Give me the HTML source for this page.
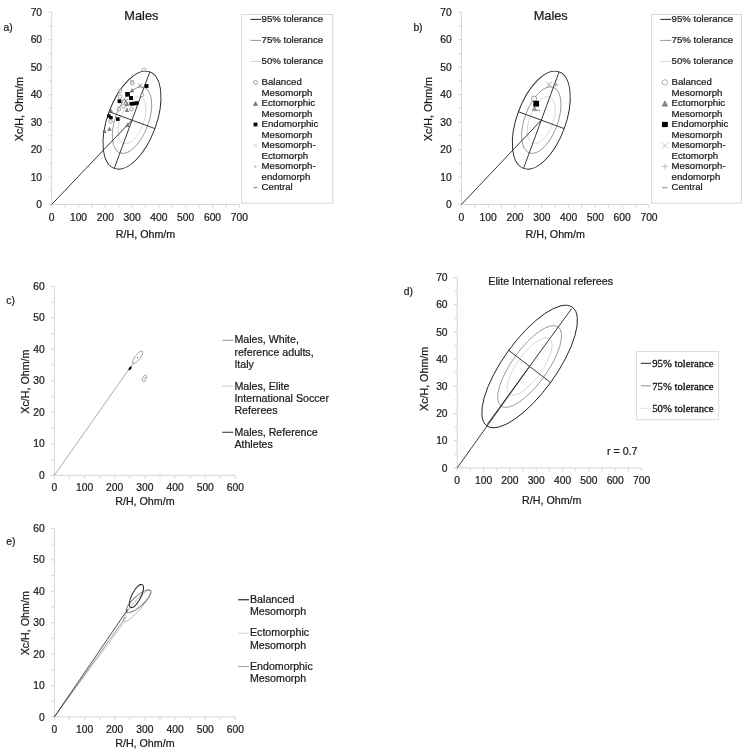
<!DOCTYPE html>
<html><head><meta charset="utf-8"><title>BIVA tolerance ellipses</title>
<style>html,body{margin:0;padding:0;background:#fff}svg{display:block;will-change:transform;transform:translateZ(0)}text{font-kerning:normal}</style>
</head><body>
<svg width="749" height="753" viewBox="0 0 749 753">
<rect width="749" height="753" fill="#fff"/>
<line x1="51.70" y1="204.45" x2="239.30" y2="204.45" stroke="#d4d4d4" stroke-width="1"/>
<line x1="51.70" y1="204.45" x2="51.70" y2="12.30" stroke="#d4d4d4" stroke-width="1"/>
<line x1="51.70" y1="204.45" x2="51.70" y2="207.75" stroke="#d4d4d4" stroke-width="1"/>
<text x="51.70" y="221.05" font-family='"Liberation Sans", sans-serif' font-size="10.3" text-anchor="middle" fill="#1a1a1a" stroke="#1a1a1a" stroke-width="0.22">0</text>
<line x1="65.10" y1="204.45" x2="65.10" y2="207.75" stroke="#d4d4d4" stroke-width="1"/>
<line x1="78.50" y1="204.45" x2="78.50" y2="207.75" stroke="#d4d4d4" stroke-width="1"/>
<text x="78.50" y="221.05" font-family='"Liberation Sans", sans-serif' font-size="10.3" text-anchor="middle" fill="#1a1a1a" stroke="#1a1a1a" stroke-width="0.22">100</text>
<line x1="91.90" y1="204.45" x2="91.90" y2="207.75" stroke="#d4d4d4" stroke-width="1"/>
<line x1="105.30" y1="204.45" x2="105.30" y2="207.75" stroke="#d4d4d4" stroke-width="1"/>
<text x="105.30" y="221.05" font-family='"Liberation Sans", sans-serif' font-size="10.3" text-anchor="middle" fill="#1a1a1a" stroke="#1a1a1a" stroke-width="0.22">200</text>
<line x1="118.70" y1="204.45" x2="118.70" y2="207.75" stroke="#d4d4d4" stroke-width="1"/>
<line x1="132.10" y1="204.45" x2="132.10" y2="207.75" stroke="#d4d4d4" stroke-width="1"/>
<text x="132.10" y="221.05" font-family='"Liberation Sans", sans-serif' font-size="10.3" text-anchor="middle" fill="#1a1a1a" stroke="#1a1a1a" stroke-width="0.22">300</text>
<line x1="145.50" y1="204.45" x2="145.50" y2="207.75" stroke="#d4d4d4" stroke-width="1"/>
<line x1="158.90" y1="204.45" x2="158.90" y2="207.75" stroke="#d4d4d4" stroke-width="1"/>
<text x="158.90" y="221.05" font-family='"Liberation Sans", sans-serif' font-size="10.3" text-anchor="middle" fill="#1a1a1a" stroke="#1a1a1a" stroke-width="0.22">400</text>
<line x1="172.30" y1="204.45" x2="172.30" y2="207.75" stroke="#d4d4d4" stroke-width="1"/>
<line x1="185.70" y1="204.45" x2="185.70" y2="207.75" stroke="#d4d4d4" stroke-width="1"/>
<text x="185.70" y="221.05" font-family='"Liberation Sans", sans-serif' font-size="10.3" text-anchor="middle" fill="#1a1a1a" stroke="#1a1a1a" stroke-width="0.22">500</text>
<line x1="199.10" y1="204.45" x2="199.10" y2="207.75" stroke="#d4d4d4" stroke-width="1"/>
<line x1="212.50" y1="204.45" x2="212.50" y2="207.75" stroke="#d4d4d4" stroke-width="1"/>
<text x="212.50" y="221.05" font-family='"Liberation Sans", sans-serif' font-size="10.3" text-anchor="middle" fill="#1a1a1a" stroke="#1a1a1a" stroke-width="0.22">600</text>
<line x1="225.90" y1="204.45" x2="225.90" y2="207.75" stroke="#d4d4d4" stroke-width="1"/>
<line x1="239.30" y1="204.45" x2="239.30" y2="207.75" stroke="#d4d4d4" stroke-width="1"/>
<text x="239.30" y="221.05" font-family='"Liberation Sans", sans-serif' font-size="10.3" text-anchor="middle" fill="#1a1a1a" stroke="#1a1a1a" stroke-width="0.22">700</text>
<line x1="48.20" y1="204.45" x2="51.70" y2="204.45" stroke="#d4d4d4" stroke-width="1"/>
<text x="42.10" y="208.05" font-family='"Liberation Sans", sans-serif' font-size="10.3" text-anchor="end" fill="#1a1a1a" stroke="#1a1a1a" stroke-width="0.22">0</text>
<line x1="49.00" y1="190.72" x2="51.70" y2="190.72" stroke="#d4d4d4" stroke-width="1"/>
<line x1="48.20" y1="177.00" x2="51.70" y2="177.00" stroke="#d4d4d4" stroke-width="1"/>
<text x="42.10" y="180.60" font-family='"Liberation Sans", sans-serif' font-size="10.3" text-anchor="end" fill="#1a1a1a" stroke="#1a1a1a" stroke-width="0.22">10</text>
<line x1="49.00" y1="163.27" x2="51.70" y2="163.27" stroke="#d4d4d4" stroke-width="1"/>
<line x1="48.20" y1="149.55" x2="51.70" y2="149.55" stroke="#d4d4d4" stroke-width="1"/>
<text x="42.10" y="153.15" font-family='"Liberation Sans", sans-serif' font-size="10.3" text-anchor="end" fill="#1a1a1a" stroke="#1a1a1a" stroke-width="0.22">20</text>
<line x1="49.00" y1="135.82" x2="51.70" y2="135.82" stroke="#d4d4d4" stroke-width="1"/>
<line x1="48.20" y1="122.10" x2="51.70" y2="122.10" stroke="#d4d4d4" stroke-width="1"/>
<text x="42.10" y="125.70" font-family='"Liberation Sans", sans-serif' font-size="10.3" text-anchor="end" fill="#1a1a1a" stroke="#1a1a1a" stroke-width="0.22">30</text>
<line x1="49.00" y1="108.37" x2="51.70" y2="108.37" stroke="#d4d4d4" stroke-width="1"/>
<line x1="48.20" y1="94.65" x2="51.70" y2="94.65" stroke="#d4d4d4" stroke-width="1"/>
<text x="42.10" y="98.25" font-family='"Liberation Sans", sans-serif' font-size="10.3" text-anchor="end" fill="#1a1a1a" stroke="#1a1a1a" stroke-width="0.22">40</text>
<line x1="49.00" y1="80.92" x2="51.70" y2="80.92" stroke="#d4d4d4" stroke-width="1"/>
<line x1="48.20" y1="67.20" x2="51.70" y2="67.20" stroke="#d4d4d4" stroke-width="1"/>
<text x="42.10" y="70.80" font-family='"Liberation Sans", sans-serif' font-size="10.3" text-anchor="end" fill="#1a1a1a" stroke="#1a1a1a" stroke-width="0.22">50</text>
<line x1="49.00" y1="53.47" x2="51.70" y2="53.47" stroke="#d4d4d4" stroke-width="1"/>
<line x1="48.20" y1="39.75" x2="51.70" y2="39.75" stroke="#d4d4d4" stroke-width="1"/>
<text x="42.10" y="43.35" font-family='"Liberation Sans", sans-serif' font-size="10.3" text-anchor="end" fill="#1a1a1a" stroke="#1a1a1a" stroke-width="0.22">60</text>
<line x1="49.00" y1="26.02" x2="51.70" y2="26.02" stroke="#d4d4d4" stroke-width="1"/>
<line x1="48.20" y1="12.30" x2="51.70" y2="12.30" stroke="#d4d4d4" stroke-width="1"/>
<text x="42.10" y="15.90" font-family='"Liberation Sans", sans-serif' font-size="10.3" text-anchor="end" fill="#1a1a1a" stroke="#1a1a1a" stroke-width="0.22">70</text>
<text x="145.50" y="237.55" font-family='"Liberation Sans", sans-serif' font-size="10.7" text-anchor="middle" fill="#1a1a1a" stroke="#1a1a1a" stroke-width="0.22">R/H, Ohm/m</text>
<text x="22.70" y="109.07" font-family='"Liberation Sans", sans-serif' font-size="10.7" text-anchor="middle" fill="#1a1a1a" stroke="#1a1a1a" stroke-width="0.22" transform="rotate(-90 22.70 109.07)">Xc/H, Ohm/m</text>
<text x="3.60" y="31.00" font-family='"Liberation Sans", sans-serif' font-size="10.3" text-anchor="start" fill="#1a1a1a" stroke="#1a1a1a" stroke-width="0.22">a)</text>
<text x="141.40" y="19.80" font-family='"Liberation Sans", sans-serif' font-size="12.8" text-anchor="middle" fill="#1a1a1a" stroke="#1a1a1a" stroke-width="0.22">Males</text>
<ellipse cx="132.00" cy="120.15" rx="24.72" ry="11.74" transform="rotate(-69.80 132.00 120.15)" stroke="#d4d4d4" stroke-width="0.8" fill="none"/>
<ellipse cx="132.00" cy="120.15" rx="34.95" ry="16.59" transform="rotate(-69.80 132.00 120.15)" stroke="#8c8c8c" stroke-width="0.8" fill="none"/>
<ellipse cx="132.00" cy="120.15" rx="51.40" ry="24.40" transform="rotate(-69.80 132.00 120.15)" stroke="#222" stroke-width="0.9" fill="none"/>
<line x1="114.25" y1="168.39" x2="149.75" y2="71.91" stroke="#222" stroke-width="0.9"/>
<line x1="109.10" y1="111.72" x2="154.90" y2="128.58" stroke="#222" stroke-width="0.9"/>
<line x1="51.70" y1="204.45" x2="131.60" y2="120.55" stroke="#222" stroke-width="0.9"/>
<circle cx="143.90" cy="69.70" r="1.8" fill="#fff" fill-opacity="0.6" stroke="#707070" stroke-width="0.6"/>
<circle cx="132.00" cy="82.00" r="1.8" fill="#fff" fill-opacity="0.6" stroke="#707070" stroke-width="0.6"/>
<circle cx="132.20" cy="83.30" r="1.8" fill="#fff" fill-opacity="0.6" stroke="#707070" stroke-width="0.6"/>
<circle cx="120.00" cy="91.00" r="1.8" fill="#fff" fill-opacity="0.6" stroke="#707070" stroke-width="0.6"/>
<circle cx="142.10" cy="95.00" r="1.8" fill="#fff" fill-opacity="0.6" stroke="#707070" stroke-width="0.6"/>
<circle cx="120.00" cy="96.50" r="1.8" fill="#fff" fill-opacity="0.6" stroke="#707070" stroke-width="0.6"/>
<circle cx="124.00" cy="101.60" r="1.8" fill="#fff" fill-opacity="0.6" stroke="#707070" stroke-width="0.6"/>
<circle cx="123.50" cy="106.10" r="1.8" fill="#fff" fill-opacity="0.6" stroke="#707070" stroke-width="0.6"/>
<circle cx="119.00" cy="109.10" r="1.8" fill="#fff" fill-opacity="0.6" stroke="#707070" stroke-width="0.6"/>
<circle cx="131.50" cy="109.10" r="1.8" fill="#fff" fill-opacity="0.6" stroke="#707070" stroke-width="0.6"/>
<circle cx="110.50" cy="121.50" r="1.8" fill="#fff" fill-opacity="0.6" stroke="#707070" stroke-width="0.6"/>
<path d="M132.00 88.80 L133.70 92.03 L130.30 92.03 Z" fill="#8a8a8a" stroke="#555" stroke-width="0.6"/>
<path d="M127.00 102.30 L128.70 105.53 L125.30 105.53 Z" fill="#8a8a8a" stroke="#555" stroke-width="0.6"/>
<path d="M127.00 108.30 L128.70 111.53 L125.30 111.53 Z" fill="#8a8a8a" stroke="#555" stroke-width="0.6"/>
<path d="M111.00 109.30 L112.70 112.53 L109.30 112.53 Z" fill="#8a8a8a" stroke="#555" stroke-width="0.6"/>
<path d="M109.50 127.30 L111.20 130.53 L107.80 130.53 Z" fill="#8a8a8a" stroke="#555" stroke-width="0.6"/>
<path d="M104.50 129.30 L106.20 132.53 L102.80 132.53 Z" fill="#8a8a8a" stroke="#555" stroke-width="0.6"/>
<path d="M127.50 123.30 L129.20 126.53 L125.80 126.53 Z" fill="#8a8a8a" stroke="#555" stroke-width="0.6"/>
<path d="M138.00 83.50 L142.00 87.50 M138.00 87.50 L142.00 83.50" stroke="#5a5a5a" stroke-width="0.7" fill="none"/>
<path d="M124.00 99.00 L128.00 103.00 M124.00 103.00 L128.00 99.00" stroke="#5a5a5a" stroke-width="0.7" fill="none"/>
<rect x="144.70" y="84.10" width="3.8" height="3.8" fill="#000"/>
<rect x="125.20" y="92.00" width="4.6" height="4.6" fill="#000"/>
<rect x="129.00" y="96.00" width="4.0" height="4.0" fill="#000"/>
<rect x="117.60" y="99.30" width="3.8" height="3.8" fill="#000"/>
<rect x="129.50" y="102.00" width="3.6" height="3.6" fill="#000"/>
<rect x="131.60" y="101.80" width="3.6" height="3.6" fill="#000"/>
<rect x="133.60" y="101.60" width="3.6" height="3.6" fill="#000"/>
<rect x="135.30" y="101.30" width="3.4" height="3.4" fill="#000"/>
<rect x="107.20" y="114.30" width="3.4" height="3.4" fill="#000"/>
<rect x="109.30" y="115.90" width="3.4" height="3.4" fill="#000"/>
<rect x="116.00" y="117.30" width="3.6" height="3.6" fill="#000"/>
<rect x="241.70" y="14.5" width="91.0" height="188.7" fill="#fff" stroke="#d6d6d6" stroke-width="1"/>
<line x1="250.40" y1="19.40" x2="261.30" y2="19.40" stroke="#222" stroke-width="1"/>
<text x="261.60" y="22.10" font-family='"Liberation Sans", sans-serif' font-size="9.65" text-anchor="start" fill="#1a1a1a" stroke="#1a1a1a" stroke-width="0.22">95% tolerance</text>
<line x1="250.40" y1="40.40" x2="261.30" y2="40.40" stroke="#8a8a8a" stroke-width="0.9"/>
<text x="261.60" y="43.10" font-family='"Liberation Sans", sans-serif' font-size="9.65" text-anchor="start" fill="#1a1a1a" stroke="#1a1a1a" stroke-width="0.22">75% tolerance</text>
<line x1="250.40" y1="61.40" x2="261.30" y2="61.40" stroke="#cfcfcf" stroke-width="0.9"/>
<text x="261.60" y="64.20" font-family='"Liberation Sans", sans-serif' font-size="9.65" text-anchor="start" fill="#1a1a1a" stroke="#1a1a1a" stroke-width="0.22">50% tolerance</text>
<text x="261.60" y="85.20" font-family='"Liberation Sans", sans-serif' font-size="9.65" text-anchor="start" fill="#1a1a1a" stroke="#1a1a1a" stroke-width="0.22">Balanced</text>
<text x="261.60" y="96.10" font-family='"Liberation Sans", sans-serif' font-size="9.65" text-anchor="start" fill="#1a1a1a" stroke="#1a1a1a" stroke-width="0.22">Mesomorph</text>
<text x="261.60" y="106.20" font-family='"Liberation Sans", sans-serif' font-size="9.65" text-anchor="start" fill="#1a1a1a" stroke="#1a1a1a" stroke-width="0.22">Ectomorphic</text>
<text x="261.60" y="117.10" font-family='"Liberation Sans", sans-serif' font-size="9.65" text-anchor="start" fill="#1a1a1a" stroke="#1a1a1a" stroke-width="0.22">Mesomorph</text>
<text x="261.60" y="127.20" font-family='"Liberation Sans", sans-serif' font-size="9.65" text-anchor="start" fill="#1a1a1a" stroke="#1a1a1a" stroke-width="0.22">Endomorphic</text>
<text x="261.60" y="138.10" font-family='"Liberation Sans", sans-serif' font-size="9.65" text-anchor="start" fill="#1a1a1a" stroke="#1a1a1a" stroke-width="0.22">Mesomorph</text>
<text x="261.60" y="148.20" font-family='"Liberation Sans", sans-serif' font-size="9.65" text-anchor="start" fill="#1a1a1a" stroke="#1a1a1a" stroke-width="0.22">Mesomorph-</text>
<text x="261.60" y="159.10" font-family='"Liberation Sans", sans-serif' font-size="9.65" text-anchor="start" fill="#1a1a1a" stroke="#1a1a1a" stroke-width="0.22">Ectomorph</text>
<text x="261.60" y="169.20" font-family='"Liberation Sans", sans-serif' font-size="9.65" text-anchor="start" fill="#1a1a1a" stroke="#1a1a1a" stroke-width="0.22">Mesomorph-</text>
<text x="261.60" y="180.10" font-family='"Liberation Sans", sans-serif' font-size="9.65" text-anchor="start" fill="#1a1a1a" stroke="#1a1a1a" stroke-width="0.22">endomorph</text>
<text x="261.60" y="190.20" font-family='"Liberation Sans", sans-serif' font-size="9.65" text-anchor="start" fill="#1a1a1a" stroke="#1a1a1a" stroke-width="0.22">Central</text>
<circle cx="255.50" cy="82.40" r="1.9" fill="#fff" fill-opacity="0.6" stroke="#777" stroke-width="0.7"/>
<path d="M255.50 101.65 L257.50 105.45 L253.50 105.45 Z" fill="#777" stroke="#666" stroke-width="0.6"/>
<rect x="253.60" y="122.60" width="3.8" height="3.8" fill="#000"/>
<path d="M253.80 143.85 L257.20 147.25 M253.80 147.25 L257.20 143.85" stroke="#aaa" stroke-width="0.6" fill="none"/>
<path d="M253.80 166.60 L257.20 166.60 M255.50 164.90 L255.50 168.30" stroke="#aaa" stroke-width="0.6" fill="none"/>
<path d="M253.60 187.65 L257.40 187.65" stroke="#666" stroke-width="0.9" fill="none"/>
<line x1="461.40" y1="204.45" x2="649.00" y2="204.45" stroke="#d4d4d4" stroke-width="1"/>
<line x1="461.40" y1="204.45" x2="461.40" y2="12.30" stroke="#d4d4d4" stroke-width="1"/>
<line x1="461.40" y1="204.45" x2="461.40" y2="207.75" stroke="#d4d4d4" stroke-width="1"/>
<text x="461.40" y="221.05" font-family='"Liberation Sans", sans-serif' font-size="10.3" text-anchor="middle" fill="#1a1a1a" stroke="#1a1a1a" stroke-width="0.22">0</text>
<line x1="474.80" y1="204.45" x2="474.80" y2="207.75" stroke="#d4d4d4" stroke-width="1"/>
<line x1="488.20" y1="204.45" x2="488.20" y2="207.75" stroke="#d4d4d4" stroke-width="1"/>
<text x="488.20" y="221.05" font-family='"Liberation Sans", sans-serif' font-size="10.3" text-anchor="middle" fill="#1a1a1a" stroke="#1a1a1a" stroke-width="0.22">100</text>
<line x1="501.60" y1="204.45" x2="501.60" y2="207.75" stroke="#d4d4d4" stroke-width="1"/>
<line x1="515.00" y1="204.45" x2="515.00" y2="207.75" stroke="#d4d4d4" stroke-width="1"/>
<text x="515.00" y="221.05" font-family='"Liberation Sans", sans-serif' font-size="10.3" text-anchor="middle" fill="#1a1a1a" stroke="#1a1a1a" stroke-width="0.22">200</text>
<line x1="528.40" y1="204.45" x2="528.40" y2="207.75" stroke="#d4d4d4" stroke-width="1"/>
<line x1="541.80" y1="204.45" x2="541.80" y2="207.75" stroke="#d4d4d4" stroke-width="1"/>
<text x="541.80" y="221.05" font-family='"Liberation Sans", sans-serif' font-size="10.3" text-anchor="middle" fill="#1a1a1a" stroke="#1a1a1a" stroke-width="0.22">300</text>
<line x1="555.20" y1="204.45" x2="555.20" y2="207.75" stroke="#d4d4d4" stroke-width="1"/>
<line x1="568.60" y1="204.45" x2="568.60" y2="207.75" stroke="#d4d4d4" stroke-width="1"/>
<text x="568.60" y="221.05" font-family='"Liberation Sans", sans-serif' font-size="10.3" text-anchor="middle" fill="#1a1a1a" stroke="#1a1a1a" stroke-width="0.22">400</text>
<line x1="582.00" y1="204.45" x2="582.00" y2="207.75" stroke="#d4d4d4" stroke-width="1"/>
<line x1="595.40" y1="204.45" x2="595.40" y2="207.75" stroke="#d4d4d4" stroke-width="1"/>
<text x="595.40" y="221.05" font-family='"Liberation Sans", sans-serif' font-size="10.3" text-anchor="middle" fill="#1a1a1a" stroke="#1a1a1a" stroke-width="0.22">500</text>
<line x1="608.80" y1="204.45" x2="608.80" y2="207.75" stroke="#d4d4d4" stroke-width="1"/>
<line x1="622.20" y1="204.45" x2="622.20" y2="207.75" stroke="#d4d4d4" stroke-width="1"/>
<text x="622.20" y="221.05" font-family='"Liberation Sans", sans-serif' font-size="10.3" text-anchor="middle" fill="#1a1a1a" stroke="#1a1a1a" stroke-width="0.22">600</text>
<line x1="635.60" y1="204.45" x2="635.60" y2="207.75" stroke="#d4d4d4" stroke-width="1"/>
<line x1="649.00" y1="204.45" x2="649.00" y2="207.75" stroke="#d4d4d4" stroke-width="1"/>
<text x="649.00" y="221.05" font-family='"Liberation Sans", sans-serif' font-size="10.3" text-anchor="middle" fill="#1a1a1a" stroke="#1a1a1a" stroke-width="0.22">700</text>
<line x1="457.90" y1="204.45" x2="461.40" y2="204.45" stroke="#d4d4d4" stroke-width="1"/>
<text x="451.80" y="208.05" font-family='"Liberation Sans", sans-serif' font-size="10.3" text-anchor="end" fill="#1a1a1a" stroke="#1a1a1a" stroke-width="0.22">0</text>
<line x1="458.70" y1="190.72" x2="461.40" y2="190.72" stroke="#d4d4d4" stroke-width="1"/>
<line x1="457.90" y1="177.00" x2="461.40" y2="177.00" stroke="#d4d4d4" stroke-width="1"/>
<text x="451.80" y="180.60" font-family='"Liberation Sans", sans-serif' font-size="10.3" text-anchor="end" fill="#1a1a1a" stroke="#1a1a1a" stroke-width="0.22">10</text>
<line x1="458.70" y1="163.27" x2="461.40" y2="163.27" stroke="#d4d4d4" stroke-width="1"/>
<line x1="457.90" y1="149.55" x2="461.40" y2="149.55" stroke="#d4d4d4" stroke-width="1"/>
<text x="451.80" y="153.15" font-family='"Liberation Sans", sans-serif' font-size="10.3" text-anchor="end" fill="#1a1a1a" stroke="#1a1a1a" stroke-width="0.22">20</text>
<line x1="458.70" y1="135.82" x2="461.40" y2="135.82" stroke="#d4d4d4" stroke-width="1"/>
<line x1="457.90" y1="122.10" x2="461.40" y2="122.10" stroke="#d4d4d4" stroke-width="1"/>
<text x="451.80" y="125.70" font-family='"Liberation Sans", sans-serif' font-size="10.3" text-anchor="end" fill="#1a1a1a" stroke="#1a1a1a" stroke-width="0.22">30</text>
<line x1="458.70" y1="108.37" x2="461.40" y2="108.37" stroke="#d4d4d4" stroke-width="1"/>
<line x1="457.90" y1="94.65" x2="461.40" y2="94.65" stroke="#d4d4d4" stroke-width="1"/>
<text x="451.80" y="98.25" font-family='"Liberation Sans", sans-serif' font-size="10.3" text-anchor="end" fill="#1a1a1a" stroke="#1a1a1a" stroke-width="0.22">40</text>
<line x1="458.70" y1="80.92" x2="461.40" y2="80.92" stroke="#d4d4d4" stroke-width="1"/>
<line x1="457.90" y1="67.20" x2="461.40" y2="67.20" stroke="#d4d4d4" stroke-width="1"/>
<text x="451.80" y="70.80" font-family='"Liberation Sans", sans-serif' font-size="10.3" text-anchor="end" fill="#1a1a1a" stroke="#1a1a1a" stroke-width="0.22">50</text>
<line x1="458.70" y1="53.47" x2="461.40" y2="53.47" stroke="#d4d4d4" stroke-width="1"/>
<line x1="457.90" y1="39.75" x2="461.40" y2="39.75" stroke="#d4d4d4" stroke-width="1"/>
<text x="451.80" y="43.35" font-family='"Liberation Sans", sans-serif' font-size="10.3" text-anchor="end" fill="#1a1a1a" stroke="#1a1a1a" stroke-width="0.22">60</text>
<line x1="458.70" y1="26.02" x2="461.40" y2="26.02" stroke="#d4d4d4" stroke-width="1"/>
<line x1="457.90" y1="12.30" x2="461.40" y2="12.30" stroke="#d4d4d4" stroke-width="1"/>
<text x="451.80" y="15.90" font-family='"Liberation Sans", sans-serif' font-size="10.3" text-anchor="end" fill="#1a1a1a" stroke="#1a1a1a" stroke-width="0.22">70</text>
<text x="555.20" y="237.55" font-family='"Liberation Sans", sans-serif' font-size="10.7" text-anchor="middle" fill="#1a1a1a" stroke="#1a1a1a" stroke-width="0.22">R/H, Ohm/m</text>
<text x="432.40" y="109.07" font-family='"Liberation Sans", sans-serif' font-size="10.7" text-anchor="middle" fill="#1a1a1a" stroke="#1a1a1a" stroke-width="0.22" transform="rotate(-90 432.40 109.07)">Xc/H, Ohm/m</text>
<text x="413.40" y="31.00" font-family='"Liberation Sans", sans-serif' font-size="10.3" text-anchor="start" fill="#1a1a1a" stroke="#1a1a1a" stroke-width="0.22">b)</text>
<text x="550.70" y="19.80" font-family='"Liberation Sans", sans-serif' font-size="12.8" text-anchor="middle" fill="#1a1a1a" stroke="#1a1a1a" stroke-width="0.22">Males</text>
<ellipse cx="541.30" cy="120.15" rx="24.72" ry="11.74" transform="rotate(-69.80 541.30 120.15)" stroke="#d4d4d4" stroke-width="0.8" fill="none"/>
<ellipse cx="541.30" cy="120.15" rx="34.95" ry="16.59" transform="rotate(-69.80 541.30 120.15)" stroke="#8c8c8c" stroke-width="0.8" fill="none"/>
<ellipse cx="541.30" cy="120.15" rx="51.40" ry="24.40" transform="rotate(-69.80 541.30 120.15)" stroke="#222" stroke-width="0.9" fill="none"/>
<line x1="523.55" y1="168.39" x2="559.05" y2="71.91" stroke="#222" stroke-width="0.9"/>
<line x1="518.40" y1="111.72" x2="564.20" y2="128.58" stroke="#222" stroke-width="0.9"/>
<line x1="461.40" y1="204.45" x2="540.90" y2="120.55" stroke="#222" stroke-width="0.9"/>
<path d="M546.30 81.90 L551.70 87.30 M546.30 87.30 L551.70 81.90" stroke="#8a8a8a" stroke-width="0.7" fill="none"/>
<path d="M553.40 84.50 L558.40 84.50 M555.90 82.00 L555.90 87.00" stroke="#8a8a8a" stroke-width="0.7" fill="none"/>
<path d="M534.40 106.30 L536.70 110.67 L532.10 110.67 Z" fill="#999" stroke="#888" stroke-width="0.6"/>
<path d="M533.20 110.40 L540.00 110.40" stroke="#999" stroke-width="1.2" fill="none"/>
<circle cx="534.10" cy="98.70" r="2.7" fill="#fff" fill-opacity="0.6" stroke="#777" stroke-width="0.7"/>
<rect x="533.30" y="100.80" width="5.8" height="5.8" fill="#000"/>
<rect x="651.60" y="14.5" width="89.8" height="188.7" fill="#fff" stroke="#d6d6d6" stroke-width="1"/>
<line x1="660.30" y1="19.40" x2="671.20" y2="19.40" stroke="#222" stroke-width="1"/>
<text x="671.60" y="22.10" font-family='"Liberation Sans", sans-serif' font-size="9.65" text-anchor="start" fill="#1a1a1a" stroke="#1a1a1a" stroke-width="0.22">95% tolerance</text>
<line x1="660.30" y1="40.40" x2="671.20" y2="40.40" stroke="#8a8a8a" stroke-width="0.9"/>
<text x="671.60" y="43.10" font-family='"Liberation Sans", sans-serif' font-size="9.65" text-anchor="start" fill="#1a1a1a" stroke="#1a1a1a" stroke-width="0.22">75% tolerance</text>
<line x1="660.30" y1="61.40" x2="671.20" y2="61.40" stroke="#cfcfcf" stroke-width="0.9"/>
<text x="671.60" y="64.20" font-family='"Liberation Sans", sans-serif' font-size="9.65" text-anchor="start" fill="#1a1a1a" stroke="#1a1a1a" stroke-width="0.22">50% tolerance</text>
<text x="671.60" y="85.20" font-family='"Liberation Sans", sans-serif' font-size="9.65" text-anchor="start" fill="#1a1a1a" stroke="#1a1a1a" stroke-width="0.22">Balanced</text>
<text x="671.60" y="96.10" font-family='"Liberation Sans", sans-serif' font-size="9.65" text-anchor="start" fill="#1a1a1a" stroke="#1a1a1a" stroke-width="0.22">Mesomorph</text>
<text x="671.60" y="106.20" font-family='"Liberation Sans", sans-serif' font-size="9.65" text-anchor="start" fill="#1a1a1a" stroke="#1a1a1a" stroke-width="0.22">Ectomorphic</text>
<text x="671.60" y="117.10" font-family='"Liberation Sans", sans-serif' font-size="9.65" text-anchor="start" fill="#1a1a1a" stroke="#1a1a1a" stroke-width="0.22">Mesomorph</text>
<text x="671.60" y="127.20" font-family='"Liberation Sans", sans-serif' font-size="9.65" text-anchor="start" fill="#1a1a1a" stroke="#1a1a1a" stroke-width="0.22">Endomorphic</text>
<text x="671.60" y="138.10" font-family='"Liberation Sans", sans-serif' font-size="9.65" text-anchor="start" fill="#1a1a1a" stroke="#1a1a1a" stroke-width="0.22">Mesomorph</text>
<text x="671.60" y="148.20" font-family='"Liberation Sans", sans-serif' font-size="9.65" text-anchor="start" fill="#1a1a1a" stroke="#1a1a1a" stroke-width="0.22">Mesomorph-</text>
<text x="671.60" y="159.10" font-family='"Liberation Sans", sans-serif' font-size="9.65" text-anchor="start" fill="#1a1a1a" stroke="#1a1a1a" stroke-width="0.22">Ectomorph</text>
<text x="671.60" y="169.20" font-family='"Liberation Sans", sans-serif' font-size="9.65" text-anchor="start" fill="#1a1a1a" stroke="#1a1a1a" stroke-width="0.22">Mesomorph-</text>
<text x="671.60" y="180.10" font-family='"Liberation Sans", sans-serif' font-size="9.65" text-anchor="start" fill="#1a1a1a" stroke="#1a1a1a" stroke-width="0.22">endomorph</text>
<text x="671.60" y="190.20" font-family='"Liberation Sans", sans-serif' font-size="9.65" text-anchor="start" fill="#1a1a1a" stroke="#1a1a1a" stroke-width="0.22">Central</text>
<circle cx="664.90" cy="82.40" r="2.7" fill="#fff" fill-opacity="0.6" stroke="#888" stroke-width="0.7"/>
<path d="M664.90 100.85 L667.70 106.17 L662.10 106.17 Z" fill="#888" stroke="#777" stroke-width="0.6"/>
<rect x="662.00" y="121.90" width="5.8" height="5.2" fill="#000"/>
<path d="M662.00 142.65 L667.80 148.45 M662.00 148.45 L667.80 142.65" stroke="#aaa" stroke-width="0.7" fill="none"/>
<path d="M661.90 166.60 L667.90 166.60 M664.90 163.60 L664.90 169.60" stroke="#aaa" stroke-width="0.7" fill="none"/>
<path d="M662.10 187.65 L667.70 187.65" stroke="#aaa" stroke-width="1.4" fill="none"/>
<line x1="54.35" y1="475.30" x2="235.43" y2="475.30" stroke="#d4d4d4" stroke-width="1"/>
<line x1="54.35" y1="475.30" x2="54.35" y2="286.36" stroke="#d4d4d4" stroke-width="1"/>
<line x1="54.35" y1="475.30" x2="54.35" y2="478.60" stroke="#d4d4d4" stroke-width="1"/>
<text x="54.35" y="491.25" font-family='"Liberation Sans", sans-serif' font-size="10.3" text-anchor="middle" fill="#1a1a1a" stroke="#1a1a1a" stroke-width="0.22">0</text>
<line x1="69.44" y1="475.30" x2="69.44" y2="478.60" stroke="#d4d4d4" stroke-width="1"/>
<line x1="84.53" y1="475.30" x2="84.53" y2="478.60" stroke="#d4d4d4" stroke-width="1"/>
<text x="84.53" y="491.25" font-family='"Liberation Sans", sans-serif' font-size="10.3" text-anchor="middle" fill="#1a1a1a" stroke="#1a1a1a" stroke-width="0.22">100</text>
<line x1="99.62" y1="475.30" x2="99.62" y2="478.60" stroke="#d4d4d4" stroke-width="1"/>
<line x1="114.71" y1="475.30" x2="114.71" y2="478.60" stroke="#d4d4d4" stroke-width="1"/>
<text x="114.71" y="491.25" font-family='"Liberation Sans", sans-serif' font-size="10.3" text-anchor="middle" fill="#1a1a1a" stroke="#1a1a1a" stroke-width="0.22">200</text>
<line x1="129.80" y1="475.30" x2="129.80" y2="478.60" stroke="#d4d4d4" stroke-width="1"/>
<line x1="144.89" y1="475.30" x2="144.89" y2="478.60" stroke="#d4d4d4" stroke-width="1"/>
<text x="144.89" y="491.25" font-family='"Liberation Sans", sans-serif' font-size="10.3" text-anchor="middle" fill="#1a1a1a" stroke="#1a1a1a" stroke-width="0.22">300</text>
<line x1="159.98" y1="475.30" x2="159.98" y2="478.60" stroke="#d4d4d4" stroke-width="1"/>
<line x1="175.07" y1="475.30" x2="175.07" y2="478.60" stroke="#d4d4d4" stroke-width="1"/>
<text x="175.07" y="491.25" font-family='"Liberation Sans", sans-serif' font-size="10.3" text-anchor="middle" fill="#1a1a1a" stroke="#1a1a1a" stroke-width="0.22">400</text>
<line x1="190.16" y1="475.30" x2="190.16" y2="478.60" stroke="#d4d4d4" stroke-width="1"/>
<line x1="205.25" y1="475.30" x2="205.25" y2="478.60" stroke="#d4d4d4" stroke-width="1"/>
<text x="205.25" y="491.25" font-family='"Liberation Sans", sans-serif' font-size="10.3" text-anchor="middle" fill="#1a1a1a" stroke="#1a1a1a" stroke-width="0.22">500</text>
<line x1="220.34" y1="475.30" x2="220.34" y2="478.60" stroke="#d4d4d4" stroke-width="1"/>
<line x1="235.43" y1="475.30" x2="235.43" y2="478.60" stroke="#d4d4d4" stroke-width="1"/>
<text x="235.43" y="491.25" font-family='"Liberation Sans", sans-serif' font-size="10.3" text-anchor="middle" fill="#1a1a1a" stroke="#1a1a1a" stroke-width="0.22">600</text>
<line x1="50.85" y1="475.30" x2="54.35" y2="475.30" stroke="#d4d4d4" stroke-width="1"/>
<text x="44.80" y="478.90" font-family='"Liberation Sans", sans-serif' font-size="10.3" text-anchor="end" fill="#1a1a1a" stroke="#1a1a1a" stroke-width="0.22">0</text>
<line x1="51.65" y1="459.56" x2="54.35" y2="459.56" stroke="#d4d4d4" stroke-width="1"/>
<line x1="50.85" y1="443.81" x2="54.35" y2="443.81" stroke="#d4d4d4" stroke-width="1"/>
<text x="44.80" y="447.41" font-family='"Liberation Sans", sans-serif' font-size="10.3" text-anchor="end" fill="#1a1a1a" stroke="#1a1a1a" stroke-width="0.22">10</text>
<line x1="51.65" y1="428.06" x2="54.35" y2="428.06" stroke="#d4d4d4" stroke-width="1"/>
<line x1="50.85" y1="412.32" x2="54.35" y2="412.32" stroke="#d4d4d4" stroke-width="1"/>
<text x="44.80" y="415.92" font-family='"Liberation Sans", sans-serif' font-size="10.3" text-anchor="end" fill="#1a1a1a" stroke="#1a1a1a" stroke-width="0.22">20</text>
<line x1="51.65" y1="396.58" x2="54.35" y2="396.58" stroke="#d4d4d4" stroke-width="1"/>
<line x1="50.85" y1="380.83" x2="54.35" y2="380.83" stroke="#d4d4d4" stroke-width="1"/>
<text x="44.80" y="384.43" font-family='"Liberation Sans", sans-serif' font-size="10.3" text-anchor="end" fill="#1a1a1a" stroke="#1a1a1a" stroke-width="0.22">30</text>
<line x1="51.65" y1="365.09" x2="54.35" y2="365.09" stroke="#d4d4d4" stroke-width="1"/>
<line x1="50.85" y1="349.34" x2="54.35" y2="349.34" stroke="#d4d4d4" stroke-width="1"/>
<text x="44.80" y="352.94" font-family='"Liberation Sans", sans-serif' font-size="10.3" text-anchor="end" fill="#1a1a1a" stroke="#1a1a1a" stroke-width="0.22">40</text>
<line x1="51.65" y1="333.60" x2="54.35" y2="333.60" stroke="#d4d4d4" stroke-width="1"/>
<line x1="50.85" y1="317.85" x2="54.35" y2="317.85" stroke="#d4d4d4" stroke-width="1"/>
<text x="44.80" y="321.45" font-family='"Liberation Sans", sans-serif' font-size="10.3" text-anchor="end" fill="#1a1a1a" stroke="#1a1a1a" stroke-width="0.22">50</text>
<line x1="51.65" y1="302.11" x2="54.35" y2="302.11" stroke="#d4d4d4" stroke-width="1"/>
<line x1="50.85" y1="286.36" x2="54.35" y2="286.36" stroke="#d4d4d4" stroke-width="1"/>
<text x="44.80" y="289.96" font-family='"Liberation Sans", sans-serif' font-size="10.3" text-anchor="end" fill="#1a1a1a" stroke="#1a1a1a" stroke-width="0.22">60</text>
<text x="144.89" y="505.10" font-family='"Liberation Sans", sans-serif' font-size="10.7" text-anchor="middle" fill="#1a1a1a" stroke="#1a1a1a" stroke-width="0.22">R/H, Ohm/m</text>
<text x="28.80" y="381.63" font-family='"Liberation Sans", sans-serif' font-size="10.7" text-anchor="middle" fill="#1a1a1a" stroke="#1a1a1a" stroke-width="0.22" transform="rotate(-90 28.80 381.63)">Xc/H, Ohm/m</text>
<text x="6.30" y="303.60" font-family='"Liberation Sans", sans-serif' font-size="10.3" text-anchor="start" fill="#1a1a1a" stroke="#1a1a1a" stroke-width="0.22">c)</text>
<line x1="54.35" y1="475.30" x2="133.60" y2="362.60" stroke="#8c8c8c" stroke-width="0.75"/>
<ellipse cx="137.65" cy="357.30" rx="7.70" ry="2.50" transform="rotate(-52.50 137.65 357.30)" stroke="#8a8a8a" stroke-width="0.7" fill="none"/>
<circle cx="137.5" cy="357.6" r="0.55" fill="#333"/>
<ellipse cx="130.10" cy="368.40" rx="1.90" ry="1.05" transform="rotate(-55.00 130.10 368.40)" stroke="#111" stroke-width="0.4" fill="#111"/>
<ellipse cx="144.50" cy="378.35" rx="3.50" ry="1.90" transform="rotate(-70.00 144.50 378.35)" stroke="#7a7a7a" stroke-width="0.6" fill="none"/>
<line x1="143.70" y1="379.60" x2="145.30" y2="377.10" stroke="#7a7a7a" stroke-width="0.6"/>
<line x1="222.30" y1="340.30" x2="233.30" y2="340.30" stroke="#8a8a8a" stroke-width="0.9"/>
<text x="234.40" y="343.30" font-family='"Liberation Sans", sans-serif' font-size="10.65" text-anchor="start" fill="#1a1a1a" stroke="#1a1a1a" stroke-width="0.22">Males, White,</text>
<text x="234.40" y="355.90" font-family='"Liberation Sans", sans-serif' font-size="10.65" text-anchor="start" fill="#1a1a1a" stroke="#1a1a1a" stroke-width="0.22">reference adults,</text>
<text x="234.40" y="367.60" font-family='"Liberation Sans", sans-serif' font-size="10.65" text-anchor="start" fill="#1a1a1a" stroke="#1a1a1a" stroke-width="0.22">Italy</text>
<line x1="222.30" y1="386.10" x2="233.30" y2="386.10" stroke="#c4c4c4" stroke-width="0.9"/>
<text x="234.40" y="389.60" font-family='"Liberation Sans", sans-serif' font-size="10.65" text-anchor="start" fill="#1a1a1a" stroke="#1a1a1a" stroke-width="0.22">Males, Elite</text>
<text x="234.40" y="401.90" font-family='"Liberation Sans", sans-serif' font-size="10.65" text-anchor="start" fill="#1a1a1a" stroke="#1a1a1a" stroke-width="0.22">International Soccer</text>
<text x="234.40" y="414.00" font-family='"Liberation Sans", sans-serif' font-size="10.65" text-anchor="start" fill="#1a1a1a" stroke="#1a1a1a" stroke-width="0.22">Referees</text>
<line x1="222.30" y1="432.30" x2="233.30" y2="432.30" stroke="#444" stroke-width="1.15"/>
<text x="234.40" y="435.70" font-family='"Liberation Sans", sans-serif' font-size="10.65" text-anchor="start" fill="#1a1a1a" stroke="#1a1a1a" stroke-width="0.22">Males, Reference</text>
<text x="234.40" y="447.90" font-family='"Liberation Sans", sans-serif' font-size="10.65" text-anchor="start" fill="#1a1a1a" stroke="#1a1a1a" stroke-width="0.22">Athletes</text>
<line x1="54.35" y1="716.90" x2="235.43" y2="716.90" stroke="#d4d4d4" stroke-width="1"/>
<line x1="54.35" y1="716.90" x2="54.35" y2="528.44" stroke="#d4d4d4" stroke-width="1"/>
<line x1="54.35" y1="716.90" x2="54.35" y2="720.20" stroke="#d4d4d4" stroke-width="1"/>
<text x="54.35" y="733.40" font-family='"Liberation Sans", sans-serif' font-size="10.3" text-anchor="middle" fill="#1a1a1a" stroke="#1a1a1a" stroke-width="0.22">0</text>
<line x1="69.44" y1="716.90" x2="69.44" y2="720.20" stroke="#d4d4d4" stroke-width="1"/>
<line x1="84.53" y1="716.90" x2="84.53" y2="720.20" stroke="#d4d4d4" stroke-width="1"/>
<text x="84.53" y="733.40" font-family='"Liberation Sans", sans-serif' font-size="10.3" text-anchor="middle" fill="#1a1a1a" stroke="#1a1a1a" stroke-width="0.22">100</text>
<line x1="99.62" y1="716.90" x2="99.62" y2="720.20" stroke="#d4d4d4" stroke-width="1"/>
<line x1="114.71" y1="716.90" x2="114.71" y2="720.20" stroke="#d4d4d4" stroke-width="1"/>
<text x="114.71" y="733.40" font-family='"Liberation Sans", sans-serif' font-size="10.3" text-anchor="middle" fill="#1a1a1a" stroke="#1a1a1a" stroke-width="0.22">200</text>
<line x1="129.80" y1="716.90" x2="129.80" y2="720.20" stroke="#d4d4d4" stroke-width="1"/>
<line x1="144.89" y1="716.90" x2="144.89" y2="720.20" stroke="#d4d4d4" stroke-width="1"/>
<text x="144.89" y="733.40" font-family='"Liberation Sans", sans-serif' font-size="10.3" text-anchor="middle" fill="#1a1a1a" stroke="#1a1a1a" stroke-width="0.22">300</text>
<line x1="159.98" y1="716.90" x2="159.98" y2="720.20" stroke="#d4d4d4" stroke-width="1"/>
<line x1="175.07" y1="716.90" x2="175.07" y2="720.20" stroke="#d4d4d4" stroke-width="1"/>
<text x="175.07" y="733.40" font-family='"Liberation Sans", sans-serif' font-size="10.3" text-anchor="middle" fill="#1a1a1a" stroke="#1a1a1a" stroke-width="0.22">400</text>
<line x1="190.16" y1="716.90" x2="190.16" y2="720.20" stroke="#d4d4d4" stroke-width="1"/>
<line x1="205.25" y1="716.90" x2="205.25" y2="720.20" stroke="#d4d4d4" stroke-width="1"/>
<text x="205.25" y="733.40" font-family='"Liberation Sans", sans-serif' font-size="10.3" text-anchor="middle" fill="#1a1a1a" stroke="#1a1a1a" stroke-width="0.22">500</text>
<line x1="220.34" y1="716.90" x2="220.34" y2="720.20" stroke="#d4d4d4" stroke-width="1"/>
<line x1="235.43" y1="716.90" x2="235.43" y2="720.20" stroke="#d4d4d4" stroke-width="1"/>
<text x="235.43" y="733.40" font-family='"Liberation Sans", sans-serif' font-size="10.3" text-anchor="middle" fill="#1a1a1a" stroke="#1a1a1a" stroke-width="0.22">600</text>
<line x1="50.85" y1="716.90" x2="54.35" y2="716.90" stroke="#d4d4d4" stroke-width="1"/>
<text x="44.80" y="720.50" font-family='"Liberation Sans", sans-serif' font-size="10.3" text-anchor="end" fill="#1a1a1a" stroke="#1a1a1a" stroke-width="0.22">0</text>
<line x1="51.65" y1="701.19" x2="54.35" y2="701.19" stroke="#d4d4d4" stroke-width="1"/>
<line x1="50.85" y1="685.49" x2="54.35" y2="685.49" stroke="#d4d4d4" stroke-width="1"/>
<text x="44.80" y="689.09" font-family='"Liberation Sans", sans-serif' font-size="10.3" text-anchor="end" fill="#1a1a1a" stroke="#1a1a1a" stroke-width="0.22">10</text>
<line x1="51.65" y1="669.78" x2="54.35" y2="669.78" stroke="#d4d4d4" stroke-width="1"/>
<line x1="50.85" y1="654.08" x2="54.35" y2="654.08" stroke="#d4d4d4" stroke-width="1"/>
<text x="44.80" y="657.68" font-family='"Liberation Sans", sans-serif' font-size="10.3" text-anchor="end" fill="#1a1a1a" stroke="#1a1a1a" stroke-width="0.22">20</text>
<line x1="51.65" y1="638.38" x2="54.35" y2="638.38" stroke="#d4d4d4" stroke-width="1"/>
<line x1="50.85" y1="622.67" x2="54.35" y2="622.67" stroke="#d4d4d4" stroke-width="1"/>
<text x="44.80" y="626.27" font-family='"Liberation Sans", sans-serif' font-size="10.3" text-anchor="end" fill="#1a1a1a" stroke="#1a1a1a" stroke-width="0.22">30</text>
<line x1="51.65" y1="606.96" x2="54.35" y2="606.96" stroke="#d4d4d4" stroke-width="1"/>
<line x1="50.85" y1="591.26" x2="54.35" y2="591.26" stroke="#d4d4d4" stroke-width="1"/>
<text x="44.80" y="594.86" font-family='"Liberation Sans", sans-serif' font-size="10.3" text-anchor="end" fill="#1a1a1a" stroke="#1a1a1a" stroke-width="0.22">40</text>
<line x1="51.65" y1="575.55" x2="54.35" y2="575.55" stroke="#d4d4d4" stroke-width="1"/>
<line x1="50.85" y1="559.85" x2="54.35" y2="559.85" stroke="#d4d4d4" stroke-width="1"/>
<text x="44.80" y="563.45" font-family='"Liberation Sans", sans-serif' font-size="10.3" text-anchor="end" fill="#1a1a1a" stroke="#1a1a1a" stroke-width="0.22">50</text>
<line x1="51.65" y1="544.14" x2="54.35" y2="544.14" stroke="#d4d4d4" stroke-width="1"/>
<line x1="50.85" y1="528.44" x2="54.35" y2="528.44" stroke="#d4d4d4" stroke-width="1"/>
<text x="44.80" y="532.04" font-family='"Liberation Sans", sans-serif' font-size="10.3" text-anchor="end" fill="#1a1a1a" stroke="#1a1a1a" stroke-width="0.22">60</text>
<text x="144.89" y="747.10" font-family='"Liberation Sans", sans-serif' font-size="10.7" text-anchor="middle" fill="#1a1a1a" stroke="#1a1a1a" stroke-width="0.22">R/H, Ohm/m</text>
<text x="28.80" y="623.27" font-family='"Liberation Sans", sans-serif' font-size="10.7" text-anchor="middle" fill="#1a1a1a" stroke="#1a1a1a" stroke-width="0.22" transform="rotate(-90 28.80 623.27)">Xc/H, Ohm/m</text>
<text x="6.30" y="545.30" font-family='"Liberation Sans", sans-serif' font-size="10.3" text-anchor="start" fill="#1a1a1a" stroke="#1a1a1a" stroke-width="0.22">e)</text>
<line x1="54.35" y1="716.90" x2="124.60" y2="622.00" stroke="#c4c4c4" stroke-width="0.8"/>
<ellipse cx="137.05" cy="605.90" rx="20.30" ry="4.50" transform="rotate(-49.70 137.05 605.90)" stroke="#b8b8b8" stroke-width="0.9" fill="none"/>
<line x1="54.35" y1="716.90" x2="126.00" y2="617.00" stroke="#6a6a6a" stroke-width="0.7"/>
<ellipse cx="138.60" cy="601.20" rx="16.00" ry="5.20" transform="rotate(-42.00 138.60 601.20)" stroke="#7a7a7a" stroke-width="1.0" fill="none"/>
<line x1="54.35" y1="716.90" x2="128.00" y2="609.00" stroke="#2a2a2a" stroke-width="0.85"/>
<ellipse cx="136.40" cy="596.00" rx="12.80" ry="4.60" transform="rotate(-63.00 136.40 596.00)" stroke="#2a2a2a" stroke-width="1.05" fill="none"/>
<line x1="238.20" y1="599.70" x2="248.90" y2="599.70" stroke="#444" stroke-width="1.4"/>
<text x="250.00" y="602.90" font-family='"Liberation Sans", sans-serif' font-size="10.65" text-anchor="start" fill="#1a1a1a" stroke="#1a1a1a" stroke-width="0.22">Balanced</text>
<text x="250.00" y="615.10" font-family='"Liberation Sans", sans-serif' font-size="10.65" text-anchor="start" fill="#1a1a1a" stroke="#1a1a1a" stroke-width="0.22">Mesomorph</text>
<line x1="238.20" y1="633.20" x2="248.90" y2="633.20" stroke="#cfcfcf" stroke-width="0.9"/>
<text x="250.00" y="636.40" font-family='"Liberation Sans", sans-serif' font-size="10.65" text-anchor="start" fill="#1a1a1a" stroke="#1a1a1a" stroke-width="0.22">Ectomorphic</text>
<text x="250.00" y="648.50" font-family='"Liberation Sans", sans-serif' font-size="10.65" text-anchor="start" fill="#1a1a1a" stroke="#1a1a1a" stroke-width="0.22">Mesomorph</text>
<line x1="238.20" y1="666.50" x2="248.90" y2="666.50" stroke="#a8a8a8" stroke-width="1.2"/>
<text x="250.00" y="669.70" font-family='"Liberation Sans", sans-serif' font-size="10.65" text-anchor="start" fill="#1a1a1a" stroke="#1a1a1a" stroke-width="0.22">Endomorphic</text>
<text x="250.00" y="681.90" font-family='"Liberation Sans", sans-serif' font-size="10.65" text-anchor="start" fill="#1a1a1a" stroke="#1a1a1a" stroke-width="0.22">Mesomorph</text>
<line x1="457.20" y1="467.90" x2="641.58" y2="467.90" stroke="#d4d4d4" stroke-width="1"/>
<line x1="457.20" y1="467.90" x2="457.20" y2="277.50" stroke="#d4d4d4" stroke-width="1"/>
<line x1="457.20" y1="467.90" x2="457.20" y2="471.20" stroke="#d4d4d4" stroke-width="1"/>
<text x="457.20" y="484.20" font-family='"Liberation Sans", sans-serif' font-size="10.3" text-anchor="middle" fill="#1a1a1a" stroke="#1a1a1a" stroke-width="0.22">0</text>
<line x1="470.37" y1="467.90" x2="470.37" y2="471.20" stroke="#d4d4d4" stroke-width="1"/>
<line x1="483.54" y1="467.90" x2="483.54" y2="471.20" stroke="#d4d4d4" stroke-width="1"/>
<text x="483.54" y="484.20" font-family='"Liberation Sans", sans-serif' font-size="10.3" text-anchor="middle" fill="#1a1a1a" stroke="#1a1a1a" stroke-width="0.22">100</text>
<line x1="496.71" y1="467.90" x2="496.71" y2="471.20" stroke="#d4d4d4" stroke-width="1"/>
<line x1="509.88" y1="467.90" x2="509.88" y2="471.20" stroke="#d4d4d4" stroke-width="1"/>
<text x="509.88" y="484.20" font-family='"Liberation Sans", sans-serif' font-size="10.3" text-anchor="middle" fill="#1a1a1a" stroke="#1a1a1a" stroke-width="0.22">200</text>
<line x1="523.05" y1="467.90" x2="523.05" y2="471.20" stroke="#d4d4d4" stroke-width="1"/>
<line x1="536.22" y1="467.90" x2="536.22" y2="471.20" stroke="#d4d4d4" stroke-width="1"/>
<text x="536.22" y="484.20" font-family='"Liberation Sans", sans-serif' font-size="10.3" text-anchor="middle" fill="#1a1a1a" stroke="#1a1a1a" stroke-width="0.22">300</text>
<line x1="549.39" y1="467.90" x2="549.39" y2="471.20" stroke="#d4d4d4" stroke-width="1"/>
<line x1="562.56" y1="467.90" x2="562.56" y2="471.20" stroke="#d4d4d4" stroke-width="1"/>
<text x="562.56" y="484.20" font-family='"Liberation Sans", sans-serif' font-size="10.3" text-anchor="middle" fill="#1a1a1a" stroke="#1a1a1a" stroke-width="0.22">400</text>
<line x1="575.73" y1="467.90" x2="575.73" y2="471.20" stroke="#d4d4d4" stroke-width="1"/>
<line x1="588.90" y1="467.90" x2="588.90" y2="471.20" stroke="#d4d4d4" stroke-width="1"/>
<text x="588.90" y="484.20" font-family='"Liberation Sans", sans-serif' font-size="10.3" text-anchor="middle" fill="#1a1a1a" stroke="#1a1a1a" stroke-width="0.22">500</text>
<line x1="602.07" y1="467.90" x2="602.07" y2="471.20" stroke="#d4d4d4" stroke-width="1"/>
<line x1="615.24" y1="467.90" x2="615.24" y2="471.20" stroke="#d4d4d4" stroke-width="1"/>
<text x="615.24" y="484.20" font-family='"Liberation Sans", sans-serif' font-size="10.3" text-anchor="middle" fill="#1a1a1a" stroke="#1a1a1a" stroke-width="0.22">600</text>
<line x1="628.41" y1="467.90" x2="628.41" y2="471.20" stroke="#d4d4d4" stroke-width="1"/>
<line x1="641.58" y1="467.90" x2="641.58" y2="471.20" stroke="#d4d4d4" stroke-width="1"/>
<text x="641.58" y="484.20" font-family='"Liberation Sans", sans-serif' font-size="10.3" text-anchor="middle" fill="#1a1a1a" stroke="#1a1a1a" stroke-width="0.22">700</text>
<line x1="453.70" y1="467.90" x2="457.20" y2="467.90" stroke="#d4d4d4" stroke-width="1"/>
<text x="447.60" y="471.50" font-family='"Liberation Sans", sans-serif' font-size="10.3" text-anchor="end" fill="#1a1a1a" stroke="#1a1a1a" stroke-width="0.22">0</text>
<line x1="454.50" y1="454.30" x2="457.20" y2="454.30" stroke="#d4d4d4" stroke-width="1"/>
<line x1="453.70" y1="440.70" x2="457.20" y2="440.70" stroke="#d4d4d4" stroke-width="1"/>
<text x="447.60" y="444.30" font-family='"Liberation Sans", sans-serif' font-size="10.3" text-anchor="end" fill="#1a1a1a" stroke="#1a1a1a" stroke-width="0.22">10</text>
<line x1="454.50" y1="427.10" x2="457.20" y2="427.10" stroke="#d4d4d4" stroke-width="1"/>
<line x1="453.70" y1="413.50" x2="457.20" y2="413.50" stroke="#d4d4d4" stroke-width="1"/>
<text x="447.60" y="417.10" font-family='"Liberation Sans", sans-serif' font-size="10.3" text-anchor="end" fill="#1a1a1a" stroke="#1a1a1a" stroke-width="0.22">20</text>
<line x1="454.50" y1="399.90" x2="457.20" y2="399.90" stroke="#d4d4d4" stroke-width="1"/>
<line x1="453.70" y1="386.30" x2="457.20" y2="386.30" stroke="#d4d4d4" stroke-width="1"/>
<text x="447.60" y="389.90" font-family='"Liberation Sans", sans-serif' font-size="10.3" text-anchor="end" fill="#1a1a1a" stroke="#1a1a1a" stroke-width="0.22">30</text>
<line x1="454.50" y1="372.70" x2="457.20" y2="372.70" stroke="#d4d4d4" stroke-width="1"/>
<line x1="453.70" y1="359.10" x2="457.20" y2="359.10" stroke="#d4d4d4" stroke-width="1"/>
<text x="447.60" y="362.70" font-family='"Liberation Sans", sans-serif' font-size="10.3" text-anchor="end" fill="#1a1a1a" stroke="#1a1a1a" stroke-width="0.22">40</text>
<line x1="454.50" y1="345.50" x2="457.20" y2="345.50" stroke="#d4d4d4" stroke-width="1"/>
<line x1="453.70" y1="331.90" x2="457.20" y2="331.90" stroke="#d4d4d4" stroke-width="1"/>
<text x="447.60" y="335.50" font-family='"Liberation Sans", sans-serif' font-size="10.3" text-anchor="end" fill="#1a1a1a" stroke="#1a1a1a" stroke-width="0.22">50</text>
<line x1="454.50" y1="318.30" x2="457.20" y2="318.30" stroke="#d4d4d4" stroke-width="1"/>
<line x1="453.70" y1="304.70" x2="457.20" y2="304.70" stroke="#d4d4d4" stroke-width="1"/>
<text x="447.60" y="308.30" font-family='"Liberation Sans", sans-serif' font-size="10.3" text-anchor="end" fill="#1a1a1a" stroke="#1a1a1a" stroke-width="0.22">60</text>
<line x1="454.50" y1="291.10" x2="457.20" y2="291.10" stroke="#d4d4d4" stroke-width="1"/>
<line x1="453.70" y1="277.50" x2="457.20" y2="277.50" stroke="#d4d4d4" stroke-width="1"/>
<text x="447.60" y="281.10" font-family='"Liberation Sans", sans-serif' font-size="10.3" text-anchor="end" fill="#1a1a1a" stroke="#1a1a1a" stroke-width="0.22">70</text>
<text x="551.79" y="504.00" font-family='"Liberation Sans", sans-serif' font-size="10.7" text-anchor="middle" fill="#1a1a1a" stroke="#1a1a1a" stroke-width="0.22">R/H, Ohm/m</text>
<text x="428.00" y="378.90" font-family='"Liberation Sans", sans-serif' font-size="10.7" text-anchor="middle" fill="#1a1a1a" stroke="#1a1a1a" stroke-width="0.22" transform="rotate(-90 428.00 378.90)">Xc/H, Ohm/m</text>
<text x="403.70" y="295.30" font-family='"Liberation Sans", sans-serif' font-size="10.3" text-anchor="start" fill="#1a1a1a" stroke="#1a1a1a" stroke-width="0.22">d)</text>
<text x="488.30" y="285.30" font-family='"Liberation Sans", sans-serif' font-size="10.7" text-anchor="start" fill="#1a1a1a" stroke="#1a1a1a" stroke-width="0.22">Elite International referees</text>
<text x="606.90" y="454.90" font-family='"Liberation Sans", sans-serif' font-size="10.7" text-anchor="start" fill="#1a1a1a" stroke="#1a1a1a" stroke-width="0.22">r = 0.7</text>
<ellipse cx="529.60" cy="366.50" rx="34.43" ry="12.43" transform="rotate(-54.20 529.60 366.50)" stroke="#d4d4d4" stroke-width="0.8" fill="none"/>
<ellipse cx="529.60" cy="366.50" rx="48.83" ry="17.64" transform="rotate(-54.20 529.60 366.50)" stroke="#8c8c8c" stroke-width="0.8" fill="none"/>
<ellipse cx="529.60" cy="366.50" rx="73.10" ry="26.40" transform="rotate(-54.20 529.60 366.50)" stroke="#222" stroke-width="0.9" fill="none"/>
<line x1="487.10" y1="424.60" x2="571.80" y2="308.40" stroke="#222" stroke-width="0.9"/>
<line x1="508.50" y1="350.10" x2="550.60" y2="382.60" stroke="#222" stroke-width="0.9"/>
<line x1="457.20" y1="467.90" x2="529.60" y2="366.50" stroke="#222" stroke-width="0.9"/>
<rect x="636.5" y="351.5" width="82.1" height="68.2" fill="#fff" stroke="#dcdcdc" stroke-width="1"/>
<line x1="640.90" y1="363.30" x2="651.20" y2="363.30" stroke="#222" stroke-width="1.0"/>
<text x="652.20" y="366.90" font-family='"Liberation Serif", serif' font-size="10.7" text-anchor="start" fill="#111" stroke="#111" stroke-width="0.3">95% tolerance</text>
<line x1="640.90" y1="385.80" x2="651.20" y2="385.80" stroke="#aaa" stroke-width="1.3"/>
<text x="652.20" y="389.50" font-family='"Liberation Serif", serif' font-size="10.7" text-anchor="start" fill="#111" stroke="#111" stroke-width="0.3">75% tolerance</text>
<line x1="640.90" y1="408.30" x2="651.20" y2="408.30" stroke="#d8d8d8" stroke-width="0.9"/>
<text x="652.20" y="412.00" font-family='"Liberation Serif", serif' font-size="10.7" text-anchor="start" fill="#111" stroke="#111" stroke-width="0.3">50% tolerance</text>
</svg>
</body></html>
